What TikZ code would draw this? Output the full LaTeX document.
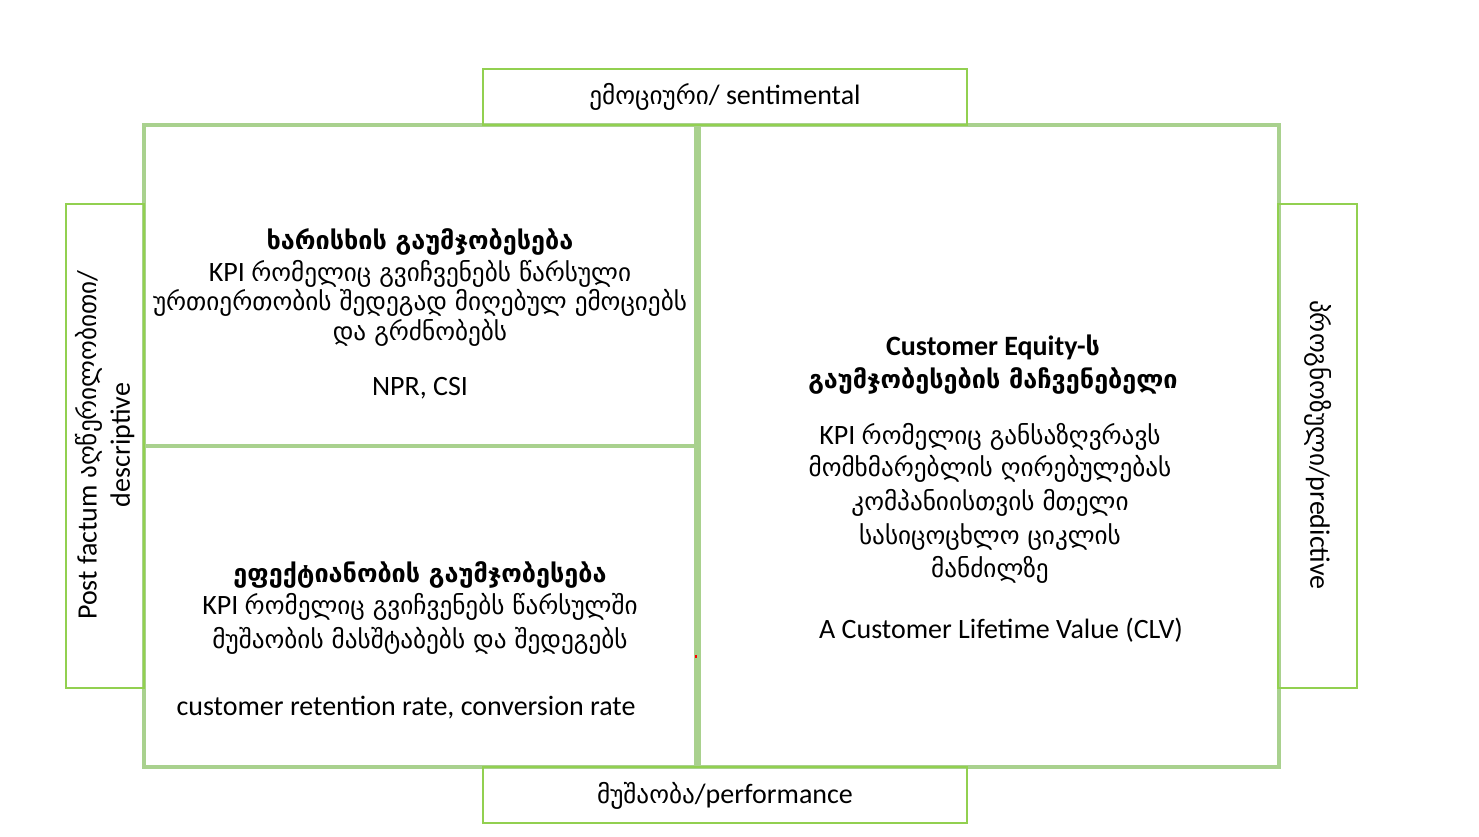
\documentclass[tikz,border=0pt]{standalone}
\usepackage{fontspec}
\setmainfont{Carlito}
\newfontfamily\geo[Scale=0.9]{DejaVu Sans}
\newcommand\ka[1]{{\geo #1}}
\definecolor{frameg}{HTML}{A9D18E}
\definecolor{boxg}{HTML}{92D050}
\begin{document}
\begin{tikzpicture}[x=0.75pt,y=-0.75pt,
  txt/.style={inner sep=0pt, anchor=base, font=\fontsize{21}{25}\selectfont},
  btxt/.style={txt, font=\fontsize{21}{25}\selectfont\bfseries},
  sidebox/.style={draw=boxg, line width=1.5pt, inner sep=0pt},
  framebox/.style={draw=frameg, line width=3pt}]
\useasboundingbox (0,0) rectangle (1479,836);
% main frame
\draw[framebox] (144,125) rectangle (1279,767);
\coordinate (vt) at (697.5,125);
\coordinate (vb) at (697.5,767);
\draw[draw=frameg, line width=5.25pt] (vt) -- (vb);
\coordinate (hl) at (144,446);
\coordinate (hr) at (697.5,446);
\draw[draw=frameg, line width=3pt] (hl) -- (hr);
% side boxes
\node[sidebox, minimum width=363pt, minimum height=42pt] (top) at (725,97) {};
\node[sidebox, minimum width=363pt, minimum height=42pt] (bot) at (725,795) {};
\node[sidebox, minimum width=58.5pt, minimum height=363pt] (left) at (105,446) {};
\node[sidebox, minimum width=59.25pt, minimum height=363pt] (right) at (1317.5,446) {};
\node[txt, anchor=center] (toptxt) at (725,97) {\ka{ემოციური}/ sentimental};
\node[txt, anchor=center] (bottxt) at (725,796) {\ka{მუშაობა}/performance};
\node[txt, anchor=center, rotate=90, align=center, font=\fontsize{21}{25}\selectfont] (lefttxt) at (105,445) {Post factum \ka{აღწერილობითი}/\\descriptive};
\node[txt, anchor=center, rotate=-90] (righttxt) at (1318,445) {\ka{პროგნოზული}/predictive};
% top-left quadrant
\node[btxt] (q1a) at (420,249) {\ka{ხარისხის გაუმჯობესება}};
\node[txt] (q1b) at (420,281) {KPI \ka{რომელიც გვიჩვენებს წარსული}};
\node[txt] (q1c) at (420,310) {\ka{ურთიერთობის შედეგად მიღებულ ემოციებს}};
\node[txt] (q1d) at (420,340) {\ka{და გრძნობებს}};
\node[txt] (q1e) at (420,395) {NPR, CSI};
% bottom-left quadrant
\node[btxt] (q2a) at (420,582) {\ka{ეფექტიანობის გაუმჯობესება}};
\node[txt] (q2b) at (420,614) {KPI \ka{რომელიც გვიჩვენებს წარსულში}};
\node[txt] (q2c) at (420,648) {\ka{მუშაობის მასშტაბებს და შედეგებს}};
\node[txt] (q2d) at (406,715) {customer retention rate, conversion rate};
% right column
\node[btxt] (r1) at (993,355) {Customer Equity-\ka{ს}};
\node[btxt] (r2) at (993,388) {\ka{გაუმჯობესების მაჩვენებელი}};
\node[txt] (r3) at (990,444) {KPI \ka{რომელიც განსაზღვრავს}};
\node[txt] (r4) at (990,476) {\ka{მომხმარებლის ღირებულებას}};
\node[txt] (r5) at (990,510) {\ka{კომპანიისთვის მთელი}};
\node[txt] (r6) at (990,544) {\ka{სასიცოცხლო ციკლის}};
\node[txt] (r7) at (990,577) {\ka{მანძილზე}};
\node[txt] (r8) at (1001,638) {A Customer Lifetime Value (CLV)};
% small red mark
\fill[red] (694.5,655) rectangle (697,657.5);
\end{tikzpicture}
\end{document}
